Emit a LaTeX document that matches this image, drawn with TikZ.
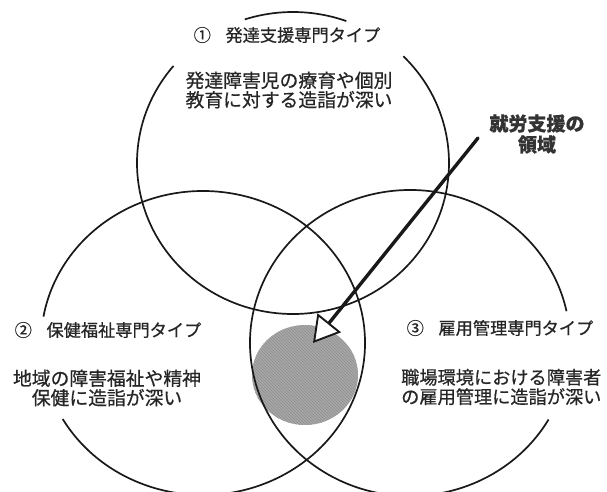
\documentclass[tikz,border=0pt]{standalone}
\usepackage{fontspec}
\newfontfamily\jp[FakeBold=0.6]{Noto Sans CJK JP}
\usetikzlibrary{arrows.meta,patterns}
\begin{document}
\begin{tikzpicture}[x=1pt,y=1pt,
  ring/.style={line width=1.7pt, draw=black!90},
  titletext/.style={font=\jp\fontsize{17.2}{20}\selectfont, text=black!85, inner sep=0pt},
  desctext/.style={font=\jp\fontsize{18.8}{19.5}\selectfont, text=black!85, align=center, inner sep=0pt},
  areatext/.style={font=\jp\bfseries\fontsize{19}{21}\selectfont, text=black!80, align=center, inner sep=0pt},
  pointer/.style={line width=3.4pt, line cap=round, draw=black!90,
    -{Triangle[length=26pt, width=30pt, line width=1.9pt, fill=white]}}]
\fill[white] (0,0) rectangle (607,-491);
\useasboundingbox (0,0) rectangle (607,-491);

% shaded employment-support region
\fill[black!34] (305,-375) ellipse [x radius=53, y radius=50];
\fill[pattern=north west lines, pattern color=black!44] (305,-375) ellipse [x radius=53, y radius=50];

% circle 1 (top)
\draw[ring] ([shift={(70:156 and 151)}]293,-163) arc[start angle=70, end angle=108, x radius=156, y radius=151];
\draw[ring] ([shift={(140:156 and 151)}]293,-163) arc[start angle=140, end angle=405, x radius=156, y radius=151];
% circle 2 (left)
\draw[ring] ([shift={(-150:162 and 152)}]203,-343) arc[start angle=-150, end angle=170, x radius=162, y radius=152];
% circle 3 (right)
\draw[ring] ([shift={(12:160 and 153)}]410,-343) arc[start angle=12, end angle=330, x radius=160, y radius=153];

% texts
\node[titletext] (t1) at (287,-35) {①\hspace{0.85em}発達支援専門タイプ};
\node[desctext] (d1) at (289,-90) {発達障害児の療育や個別\\教育に対する造詣が深い};
\node[titletext] (t2) at (108,-330) {②\hspace{0.85em}保健福祉専門タイプ};
\node[desctext] (d2) at (107,-388) {地域の障害福祉や精神\\保健に造詣が深い};
\node[titletext] (t3) at (500,-328) {③\hspace{0.85em}雇用管理専門タイプ};
\node[desctext, font=\jp\fontsize{18.2}{19.5}\selectfont, align=left, anchor=west] (d3) at (401,-387) {職場環境における障害者\\の雇用管理に造詣が深い};
\node[areatext] (area) at (537,-134) {就労支援の\\領域};

% arrow
\coordinate (tail) at (478,-138);
\coordinate (tip) at (313,-343);
\draw[pointer] (tail) -- (tip);
\end{tikzpicture}
\end{document}
